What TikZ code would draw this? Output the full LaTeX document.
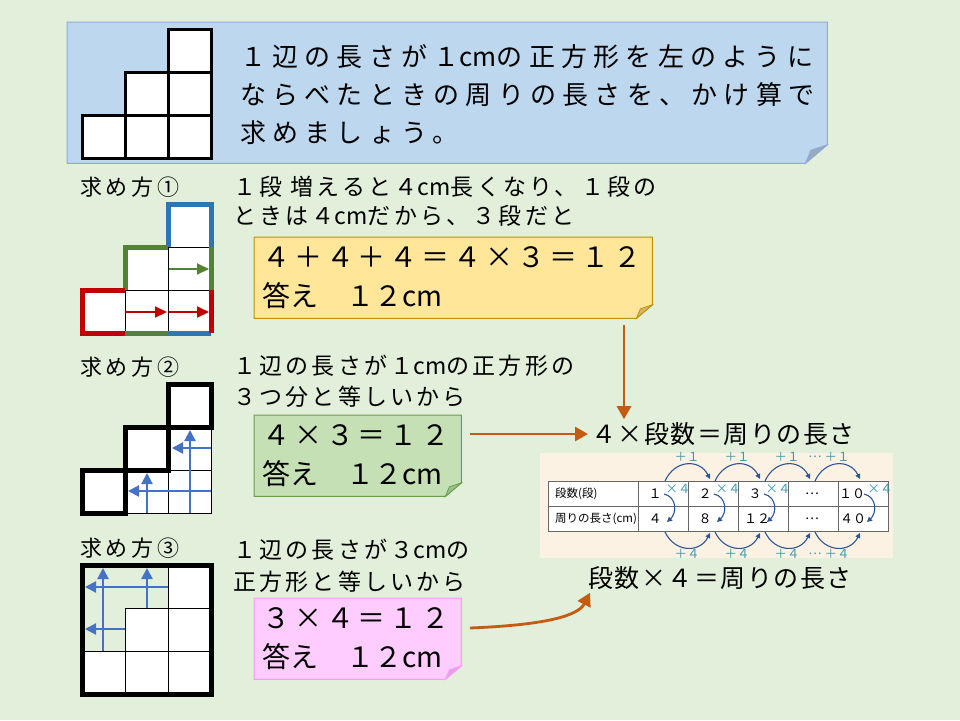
\documentclass[tikz,border=0pt]{standalone}
\usepackage{fontspec}
\setmainfont{Noto Sans CJK JP}
\newfontfamily\jpT[LetterSpace=24]{Noto Sans CJK JP}
\newfontfamily\jpM[LetterSpace=14]{Noto Sans CJK JP}
\newfontfamily\jpH[LetterSpace=17]{Noto Sans CJK JP}
\newfontfamily\jpE[LetterSpace=14]{Noto Sans CJK JP}
\newfontfamily\jpR[LetterSpace=6]{Noto Sans CJK JP}
\newcommand\cmunit{{\addfontfeature{LetterSpace=0}cm}}
\usetikzlibrary{arrows.meta,backgrounds}
\definecolor{bgc}{HTML}{E2EFDA}
\definecolor{taskfill}{HTML}{BDD7EE}
\definecolor{taskline}{HTML}{8FAADC}
\definecolor{taskfold}{HTML}{98AABF}
\definecolor{yfill}{HTML}{FFE699}
\definecolor{yline}{HTML}{BF9000}
\definecolor{yfold}{HTML}{D4B56A}
\definecolor{gfill}{HTML}{C5E0B4}
\definecolor{gline}{HTML}{6A9E4A}
\definecolor{gfold}{HTML}{9DBF8C}
\definecolor{pfill}{HTML}{FFCCFF}
\definecolor{pline}{HTML}{FF99FF}
\definecolor{pfold}{HTML}{E0A3E0}
\definecolor{orangea}{HTML}{C55A11}
\definecolor{bluea}{HTML}{4472C4}
\definecolor{fblue}{HTML}{2E75B6}
\definecolor{fgreen}{HTML}{548235}
\definecolor{fred}{HTML}{C00000}
\definecolor{tblbg}{HTML}{FCF2E3}
\definecolor{tblarrow}{HTML}{2F5597}
\definecolor{tealc}{HTML}{3A9AB0}
\definecolor{tline}{HTML}{666666}
\newcommand\foldbox[5]{%
  \begin{pgfonlayer}{background}
  \path[fill=#2,draw=#3,line width=1pt] (#1.north west) -- (#1.north east) -- ([yshift=0.85*#5]#1.south east) -- ([xshift=-#5]#1.south east) -- (#1.south west) -- cycle;
  \path[fill=#4,draw=#3,line width=0.8pt] ([yshift=0.85*#5]#1.south east) -- ([xshift=-#5]#1.south east) -- ([xshift=-0.75*#5,yshift=0.6*#5]#1.south east) -- cycle;
  \end{pgfonlayer}}
\begin{document}
\begin{tikzpicture}[x=1pt,y=-1pt,
  thinln/.style={line width=0.9pt,black},
  barrow/.style={bluea,line width=2.2pt,-{Triangle[length=11pt,width=11pt]}},
  garrow/.style={fgreen,line width=2pt,-{Triangle[length=12pt,width=11pt]}},
  rarrow/.style={fred,line width=2pt,-{Triangle[length=12pt,width=11pt]}},
  oarrow/.style={orangea,line width=2.8pt,-{Triangle[length=13pt,width=14pt]}},
  tarrow/.style={tblarrow,line width=1.1pt,-{Triangle[length=5pt,width=5pt]}},
  eqbox/.style={anchor=north west,inner xsep=8pt,inner ysep=0pt,align=left,minimum height=81pt,font=\fontsize{28}{39}\selectfont},
  mlabel/.style={anchor=west,inner sep=0pt,font=\jpH\fontsize{22}{26}\selectfont},
  mtext/.style={anchor=west,inner sep=0pt,align=left},
  flabel/.style={anchor=west,inner sep=3pt,font=\jpR\fontsize{25}{30}\selectfont},
  tlab/.style={anchor=west,inner sep=0pt,font=\fontsize{11.5}{13}\selectfont},
  tnum/.style={inner sep=0pt,font=\fontsize{13}{15}\selectfont},
  tsmall/.style={inner sep=0pt,text=tealc,font=\fontsize{12.5}{14}\selectfont},
]
\useasboundingbox (0,0) rectangle (960,720);
\begin{pgfonlayer}{background}
\fill[bgc] (0,0) rectangle (960,720);
\end{pgfonlayer}

% ---------- task box ----------
\node[minimum width=760pt,minimum height=141pt,inner sep=0pt,anchor=north west] (task) at (67,22) {};
\foldbox{task}{taskfill}{taskline}{taskfold}{22pt}
\foreach \x/\y in {168/29,125/72,168/72,82/115,125/115,168/115}
  \draw[fill=white,line width=3pt] (\x,\y) rectangle ++(43,43);
\node[anchor=west,align=left,inner sep=0pt,font=\jpT\fontsize{26}{38}\selectfont] (tq) at (240,95)
  {１辺の長さが１\cmunit の正方形を左のように\\ならべたときの周りの長さを、かけ算で\\求めましょう。};

% ---------- method 1 ----------
\node[mlabel] (m1) at (80,187) {求め方①};
\node[mtext,font=\jpM\fontsize{23}{29}\selectfont] (t1) at (233,201.5)
  {１段 増えると４\cmunit 長くなり、１段の\\ときは４\cmunit だから、３段だと};
\foreach \x/\y in {168/204,125/247,168/247,82/290,125/290,168/290}
  \fill[white] (\x,\y) rectangle ++(43,43);
\draw[thinln] (168,247)--(211,247) (125,290)--(211,290) (168,247)--(168,333) (125,290)--(125,333);
\draw[garrow] (169,269)--(209,269);
\draw[rarrow] (125,312)--(167,312);
\draw[rarrow] (169,312)--(209,312);
\draw[line width=5pt,fblue,line join=miter] (168,247)--(168,204)--(211,204)--(211,247);
\draw[line width=5pt,fblue] (168,333)--(211,333);
\draw[line width=5pt,fgreen,line join=miter] (125,290)--(125,247)--(168,247);
\draw[line width=5pt,fgreen] (211,247)--(211,290) (125,333)--(168,333);
\draw[line width=5pt,fred,line join=miter] (125,290)--(82,290)--(82,333)--(125,333);
\draw[line width=5pt,fred] (211,290)--(211,333);

% ---------- equation box 1 ----------
\node[eqbox,minimum width=398pt,text width=382pt] (ybox) at (254,237)
  {{\jpE ４＋４＋４＝４×３＝１２}\\答え　１２cm};
\foldbox{ybox}{yfill}{yline}{yfold}{16pt}

% ---------- method 2 ----------
\node[mlabel] (m2) at (80,367) {求め方②};
\node[mtext,font=\jpM\fontsize{23}{31}\selectfont] (t2) at (233,381.5)
  {１辺の長さが１\cmunit の正方形の\\３つ分と等しいから};
\foreach \x/\y in {168/384,125/427,168/427,82/470,125/470,168/470}
  \fill[white] (\x,\y) rectangle ++(43,43);
\draw[thinln] (168,427)--(211,427)--(211,513)--(125,513)--(125,470)--(211,470) (168,427)--(168,513);
\draw[barrow] (190,513)--(190,430);
\draw[barrow] (211,448)--(172,448);
\draw[barrow] (147,513)--(147,473);
\draw[barrow] (211,491)--(128,491);
\foreach \x/\y in {168/384,125/427,82/470}
  \draw[line width=5pt] (\x,\y) rectangle ++(43,43);

\node[eqbox,minimum width=207pt,text width=191pt] (gbox) at (254,415)
  {{\jpE ４×３＝１２}\\答え　１２cm};
\foldbox{gbox}{gfill}{gline}{gfold}{16pt}

% ---------- method 3 ----------
\node[mlabel] (m3) at (80,548) {求め方③};
\node[mtext,font=\jpM\fontsize{23}{32}\selectfont] (t3) at (233,566)
  {１辺の長さが３\cmunit の\\正方形と等しいから};
\fill[white] (168,565) rectangle ++(43,43);
\fill[white] (125,608) rectangle ++(86,43);
\fill[white] (82,651) rectangle ++(129,43);
\draw[thinln] (168,565)--(168,694) (125,608)--(125,694) (125,608)--(211,608) (82,651)--(211,651);
\draw[barrow] (103,651)--(103,568);
\draw[barrow] (147,608)--(147,568);
\draw[barrow] (168,587)--(85,587);
\draw[barrow] (125,629)--(85,629);
\draw[line width=5pt] (82,565) rectangle (211,694);

\node[eqbox,minimum width=207pt,text width=191pt] (pbox) at (254,598)
  {{\jpE ３×４＝１２}\\答え　１２cm};
\foldbox{pbox}{pfill}{pline}{pfold}{16pt}

% ---------- formulas ----------
\node[flabel] (f1) at (588,434) {４×段数＝周りの長さ};
\node[flabel] (f2) at (585,578) {段数×４＝周りの長さ};

\coordinate (va) at (624,325);
\draw[oarrow] (va) -- (va |- f1.north);
\coordinate (ha) at (470,434);
\draw[oarrow] (ha) -- (f1.west);
\coordinate (ca) at (470,628);
\draw[oarrow] (ca) .. controls (545,625) and (578,616) .. ([xshift=5pt]f2.south west);

% ---------- table ----------
\fill[tblbg] (540,453) rectangle (893,558);
\fill[white] (548,481) rectangle (888,531);
\draw[tline,line width=0.8pt] (548,481) rectangle (888,531) (548,506)--(888,506);
\foreach \x in {638,688,738,788,838} \draw[tline,line width=0.8pt] (\x,481)--(\x,531);
\node[tlab] (r1) at (555,493.5) {段数(段)};
\node[tlab] (r2) at (555,518.5) {周りの長さ(cm)};
\foreach \x/\t [count=\i] in {655/１,705/２,755/３,812/…,852/１０}
  \node[tnum] (a\i) at (\x,493.5) {\t};
\foreach \x/\t [count=\i] in {655/４,705/８,757/１２,812/…,853/４０}
  \node[tnum] (b\i) at (\x,518.5) {\t};
\foreach \o in {0,50,100,200}
  \draw[tarrow] (664+\o,494) .. controls (677+\o,497) and (677+\o,513) .. (667+\o,522);
\foreach \x [count=\i] in {678,728,778,880}
  \node[tsmall] (x\i) at (\x,489) {×４};
\foreach \s in {665,715,765,815} {
  \draw[tarrow] (\s,481) .. controls (\s+10,459) and (\s+35,459) .. (\s+45,479);
  \draw[tarrow] (\s,532) .. controls (\s+10,553) and (\s+35,553) .. (\s+45,533);
}
\foreach \x [count=\i] in {687,737,787,837} {
  \node[tsmall] (u\i) at (\x,457) {＋１};
  \node[tsmall] (d\i) at (\x,554) {＋４};
}
\node[tsmall] (ud) at (815,457) {…};
\node[tsmall] (dd) at (815,554) {…};
\end{tikzpicture}
\end{document}
